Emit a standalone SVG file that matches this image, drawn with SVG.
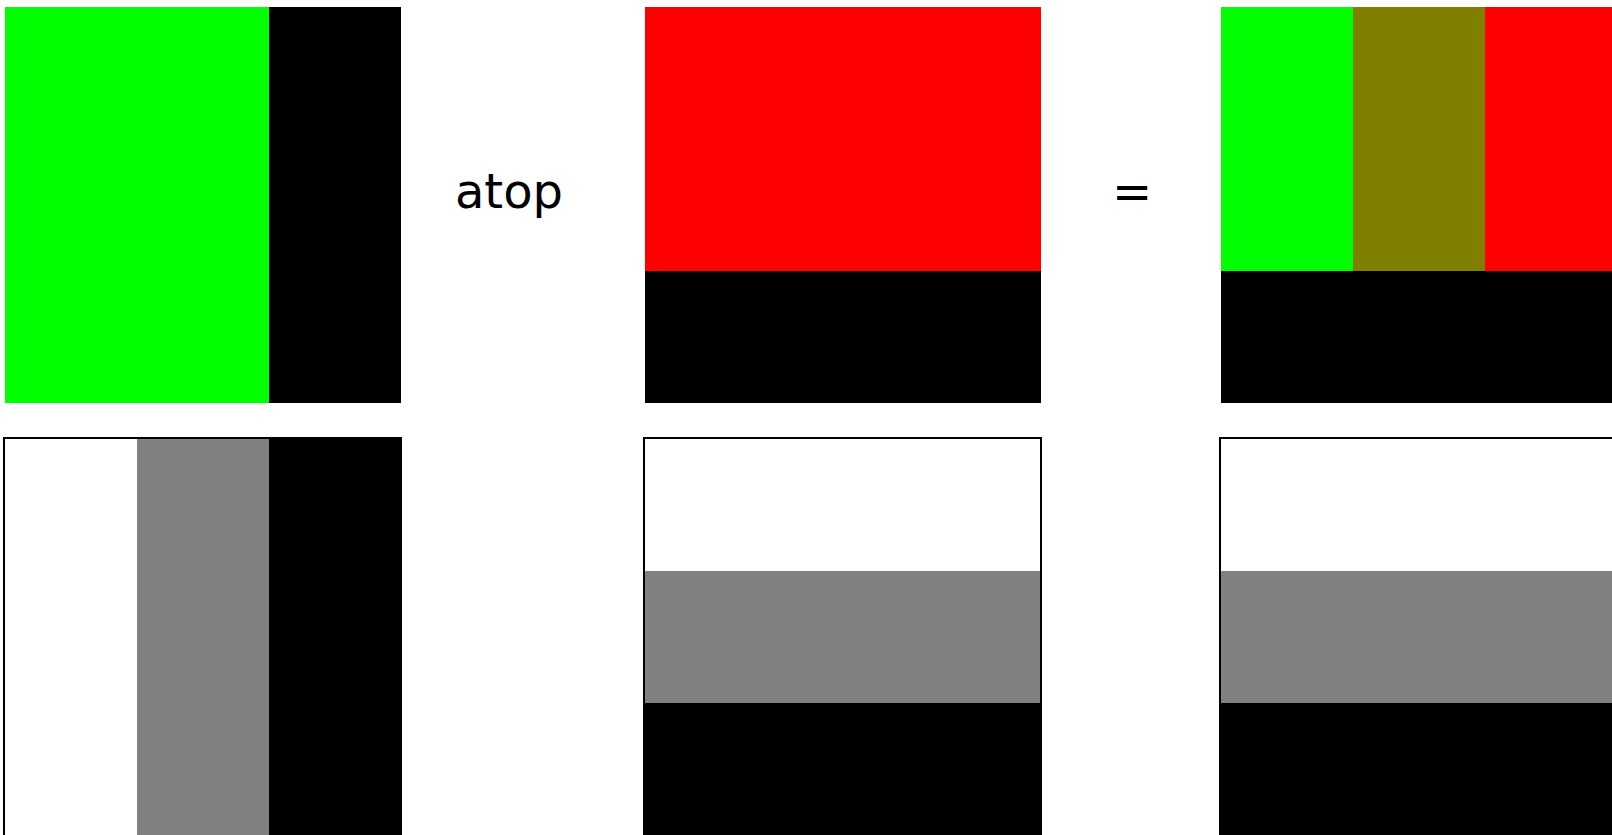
<svg xmlns="http://www.w3.org/2000/svg" width="1612" height="835" viewBox="0 0 1612 835">
<style>
.lbl{font-family:"DejaVu Sans",sans-serif;font-size:48px;fill:#000}
.frame{fill:none;stroke:#000;stroke-width:2}
</style>
<rect width="1612" height="835" fill="#fff"/>
<g id="src-color">
<rect x="5" y="7" width="264" height="396" fill="#00ff00"/>
<rect x="269" y="7" width="132" height="396" fill="#000"/>
</g>
<g id="op-label"><text class="lbl" x="509" y="208" text-anchor="middle">atop</text></g>
<g id="dst-color">
<rect x="645" y="7" width="396" height="264" fill="#ff0000"/>
<rect x="645" y="271" width="396" height="132" fill="#000"/>
</g>
<g id="eq-label"><text class="lbl" x="1132" y="208" text-anchor="middle">=</text></g>
<g id="result-color">
<rect x="1221" y="7" width="132" height="264" fill="#00ff00"/>
<rect x="1353" y="7" width="132" height="264" fill="#808000"/>
<rect x="1485" y="7" width="132" height="264" fill="#ff0000"/>
<rect x="1221" y="271" width="396" height="132" fill="#000"/>
</g>
<g id="src-alpha">
<rect x="137" y="439" width="132" height="396" fill="#808080"/>
<rect x="269" y="439" width="132" height="396" fill="#000"/>
<rect class="frame" x="4" y="438" width="397" height="400"/>
</g>
<g id="dst-alpha">
<rect x="645" y="571" width="396" height="132" fill="#808080"/>
<rect x="645" y="703" width="396" height="132" fill="#000"/>
<rect class="frame" x="644" y="438" width="397" height="400"/>
</g>
<g id="result-alpha">
<rect x="1221" y="571" width="396" height="132" fill="#808080"/>
<rect x="1221" y="703" width="396" height="132" fill="#000"/>
<rect class="frame" x="1220" y="438" width="397" height="400"/>
</g>
<g id="connectors"></g>
</svg>
